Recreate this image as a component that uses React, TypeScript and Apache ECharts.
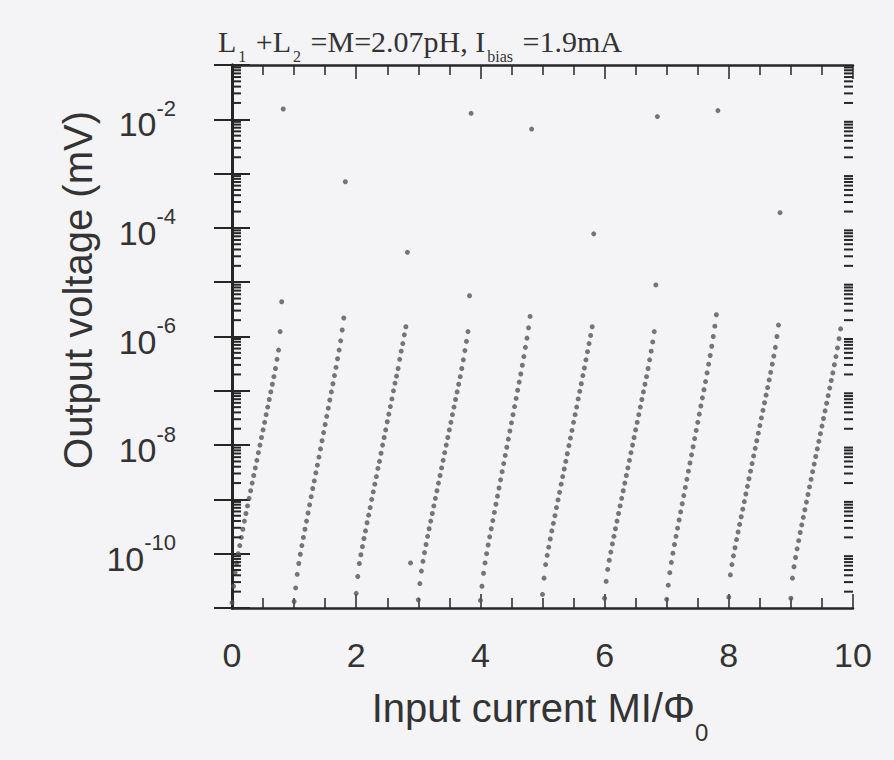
import React, { useEffect, useRef } from "react";
import * as echarts from "echarts";

// ---- data ----
// sweep step of the input current (MI/Phi0) between two simulated points
const SWEEP_STEP = 0.025;
// x where each branch of the staircase starts
const branchStartX = [0, 1, 2, 3, 4, 5, 6, 7, 8, 9];
// log10 of output voltage (mV) of consecutive points in each branch
const branch0 = [-10.9, -10.6, -10.35, -10.17, -10.0, -9.85, -9.7, -9.55, -9.4, -9.26, -9.12, -8.98, -8.84, -8.7, -8.56, -8.42, -8.28, -8.14, -8.0, -7.86, -7.72, -7.58, -7.44, -7.3, -7.16, -7.02, -6.88, -6.74, -6.59, -6.42, -6.25, -5.91, -5.36];
const branch1 = [-10.88, -10.63, -10.38, -10.18, -10.01, -9.85, -9.7, -9.55, -9.4, -9.25, -9.1, -8.95, -8.8, -8.66, -8.51, -8.37, -8.22, -8.07, -7.92, -7.77, -7.62, -7.47, -7.32, -7.17, -7.02, -6.87, -6.72, -6.57, -6.41, -6.25, -6.08, -5.88, -5.66];
const branch2 = [-10.73, -10.42, -10.18, -10.02, -9.87, -9.72, -9.58, -9.43, -9.29, -9.15, -9.0, -8.86, -8.72, -8.58, -8.43, -8.3, -8.15, -8.0, -7.86, -7.72, -7.57, -7.43, -7.29, -7.15, -7.0, -6.86, -6.73, -6.59, -6.42, -6.27, -6.13, -5.97, -5.82];
const branch3 = [-10.85, -10.55, -10.32, -10.14, -9.98, -9.83, -9.68, -9.54, -9.4, -9.26, -9.12, -8.98, -8.84, -8.7, -8.56, -8.42, -8.28, -8.14, -8.0, -7.86, -7.72, -7.58, -7.44, -7.3, -7.16, -7.02, -6.88, -6.74, -6.59, -6.43, -6.26, -6.09, -5.91];
const branch4 = [-10.86, -10.6, -10.36, -10.17, -10.0, -9.84, -9.69, -9.54, -9.39, -9.24, -9.09, -8.94, -8.79, -8.64, -8.49, -8.34, -8.19, -8.04, -7.89, -7.74, -7.59, -7.44, -7.29, -7.14, -6.99, -6.84, -6.69, -6.53, -6.37, -6.2, -6.03, -5.84, -5.63];
const branch5 = [-10.75, -10.45, -10.2, -10.03, -9.88, -9.73, -9.58, -9.44, -9.3, -9.15, -9.01, -8.87, -8.72, -8.58, -8.44, -8.3, -8.16, -8.01, -7.87, -7.73, -7.58, -7.44, -7.3, -7.15, -7.01, -6.87, -6.72, -6.58, -6.43, -6.28, -6.13, -5.98, -5.82];
const branch6 = [-10.82, -10.51, -10.29, -10.12, -9.97, -9.82, -9.68, -9.54, -9.4, -9.26, -9.12, -8.98, -8.84, -8.7, -8.56, -8.42, -8.28, -8.14, -8.0, -7.86, -7.72, -7.58, -7.44, -7.3, -7.16, -7.02, -6.88, -6.74, -6.59, -6.43, -6.27, -6.1, -5.91];
const branch7 = [-10.84, -10.58, -10.35, -10.16, -9.99, -9.83, -9.68, -9.53, -9.38, -9.23, -9.08, -8.93, -8.78, -8.63, -8.48, -8.33, -8.18, -8.03, -7.88, -7.73, -7.58, -7.43, -7.28, -7.13, -6.98, -6.83, -6.67, -6.51, -6.35, -6.18, -6.0, -5.81, -5.6];
const branch8 = [-10.8, -10.39, -10.2, -10.04, -9.89, -9.74, -9.6, -9.46, -9.32, -9.18, -9.04, -8.9, -8.76, -8.62, -8.48, -8.34, -8.2, -8.06, -7.92, -7.78, -7.64, -7.5, -7.36, -7.22, -7.08, -6.94, -6.8, -6.66, -6.51, -6.36, -6.2, -6.0, -5.79];
const branch9 = [-10.82, -10.45, -10.24, -10.07, -9.91, -9.76, -9.61, -9.47, -9.33, -9.19, -9.05, -8.91, -8.77, -8.63, -8.49, -8.35, -8.21, -8.07, -7.93, -7.79, -7.65, -7.51, -7.37, -7.23, -7.09, -6.95, -6.81, -6.67, -6.52, -6.37, -6.21, -6.04, -5.86];
const branchExponents = [branch0, branch1, branch2, branch3, branch4, branch5, branch6, branch7, branch8, branch9];
// isolated points after each switching event
const isoX = [0.825, 1.825, 2.825, 2.875, 3.825, 3.85, 4.825, 5.825, 6.825, 6.85, 7.825, 8.825];
const isoExp = [-1.81, -3.15, -4.45, -10.17, -5.25, -1.89, -2.18, -4.11, -5.05, -1.95, -1.84, -3.72];
// axes
const X_MIN = 0;
const X_MAX = 10;
const X_INTERVAL = 2;
const Y_MIN_EXP = -11;
const Y_MAX_EXP = -1;

const SANS = "'Liberation Sans', Arial, Helvetica, sans-serif";
const SERIF = "'Liberation Serif', 'Times New Roman', serif";
const INK = "#262626";

export default function App() {
  const ref = useRef<HTMLDivElement>(null);
  useEffect(() => {
    if (!ref.current) return;
    const chart = echarts.init(ref.current, undefined, { renderer: "svg" });

    const points: number[][] = [];
    branchExponents.forEach((exps, b) => {
      exps.forEach((e, i) => points.push([branchStartX[b] + i * SWEEP_STEP, Math.pow(10, e)]));
    });
    isoX.forEach((x, i) => points.push([x, Math.pow(10, isoExp[i])]));

    const minorTickValues: number[][] = [];
    for (let e = Y_MIN_EXP; e < Y_MAX_EXP; e++) {
      for (let k = 2; k <= 9; k++) minorTickValues.push([X_MIN, k * Math.pow(10, e)]);
    }

    const yLabel = (v: number) => {
      const e = Math.round(Math.log10(v));
      if (e % 2 !== 0) return "";
      return `{b|10}{s|${e}}`;
    };

    const xAxisBase = {
      type: "value" as const,
      min: X_MIN,
      max: X_MAX,
      interval: X_INTERVAL,
      axisLine: { show: true, lineStyle: { color: INK, width: 2.5 } },
      axisTick: { show: true, inside: true, length: 14, lineStyle: { color: INK, width: 1.5 } },
      minorTick: { show: true, splitNumber: 4, length: 10, lineStyle: { color: INK, width: 1.5 } },
      splitLine: { show: false },
      minorSplitLine: { show: false },
    };
    const yAxisBase = {
      type: "log" as const,
      logBase: 10,
      min: Math.pow(10, Y_MIN_EXP),
      max: Math.pow(10, Y_MAX_EXP),
      interval: 1,
      axisLine: { show: true, lineStyle: { color: INK, width: 3 } },
      axisTick: { show: true, inside: true, length: 18, lineStyle: { color: INK, width: 2 } },
      splitLine: { show: false },
    };

    chart.setOption({
      animation: false,
      backgroundColor: "#f4f3f5",
      grid: { left: 232, right: 41, top: 65, bottom: 152, containLabel: false },
      xAxis: [
        {
          ...xAxisBase,
          position: "bottom",
          axisLabel: { show: true, margin: 30, fontSize: 34, fontFamily: SANS, color: "#333" },
        },
        { ...xAxisBase, position: "top", axisLabel: { show: false } },
      ],
      yAxis: [
        {
          ...yAxisBase,
          position: "left",
          axisLabel: {
            show: true,
            margin: 56,
            align: "right",
            formatter: yLabel,
            rich: {
              b: { fontSize: 34, fontFamily: SANS, color: "#333", lineHeight: 44, verticalAlign: "bottom" },
              s: { fontSize: 22, fontFamily: SANS, color: "#333", lineHeight: 22, verticalAlign: "top" },
            },
          },
        },
        { ...yAxisBase, position: "right", axisLabel: { show: false } },
      ],
      series: [
        {
          type: "custom",
          name: "log minor ticks",
          xAxisIndex: 0,
          yAxisIndex: 0,
          silent: true,
          clip: false,
          z: 5,
          encode: { x: 0, y: 1 },
          data: minorTickValues,
          renderItem: (_p: any, api: any) => {
            const v = api.value(1);
            const l = api.coord([X_MIN, v]);
            const r = api.coord([X_MAX, v]);
            const style = { stroke: INK, lineWidth: 2 };
            return {
              type: "group",
              children: [
                { type: "line", shape: { x1: l[0], y1: l[1], x2: l[0] + 9, y2: l[1] }, style },
                { type: "line", shape: { x1: r[0], y1: r[1], x2: r[0] - 9, y2: r[1] }, style },
              ],
            };
          },
        },
        {
          type: "scatter",
          name: "Output voltage",
          xAxisIndex: 0,
          yAxisIndex: 0,
          symbol: "circle",
          symbolSize: 5,
          itemStyle: { color: "#555555" },
          data: points,
          z: 3,
        },
      ],
      graphic: [
        {
          type: "text",
          left: 218,
          top: 26,
          style: {
            text: "{t|L}{s|1}{t| +L}{s|2}{t| =M=2.07pH, I}{s|bias}{t| =1.9mA}",
            rich: {
              t: { fontFamily: SERIF, fontSize: 30, fill: "#333", lineHeight: 38, verticalAlign: "top" },
              s: { fontFamily: SERIF, fontSize: 16, fill: "#333", lineHeight: 38, verticalAlign: "bottom", padding: [0, 2, 0, 2] },
            },
          },
        },
        {
          type: "text",
          x: 78,
          y: 290,
          rotation: Math.PI / 2,
          style: {
            text: "Output voltage (mV)",
            fontFamily: SANS,
            fontSize: 40,
            fill: "#333",
            align: "center",
            verticalAlign: "middle",
          },
        },
        {
          type: "text",
          x: 540,
          y: 716,
          style: {
            text: "{a|Input current MI/Φ}{s|0}",
            align: "center",
            verticalAlign: "middle",
            rich: {
              a: { fontFamily: SANS, fontSize: 40, fill: "#333", lineHeight: 56, verticalAlign: "top" },
              s: { fontFamily: SANS, fontSize: 24, fill: "#333", lineHeight: 26, verticalAlign: "bottom" },
            },
          },
        },
      ],
    });
    return () => chart.dispose();
  }, []);
  return (
    <div
      ref={ref}
      style={{ position: "fixed", left: 0, top: 0, width: 894, height: 760, background: "#f4f3f5" }}
    />
  );
}
